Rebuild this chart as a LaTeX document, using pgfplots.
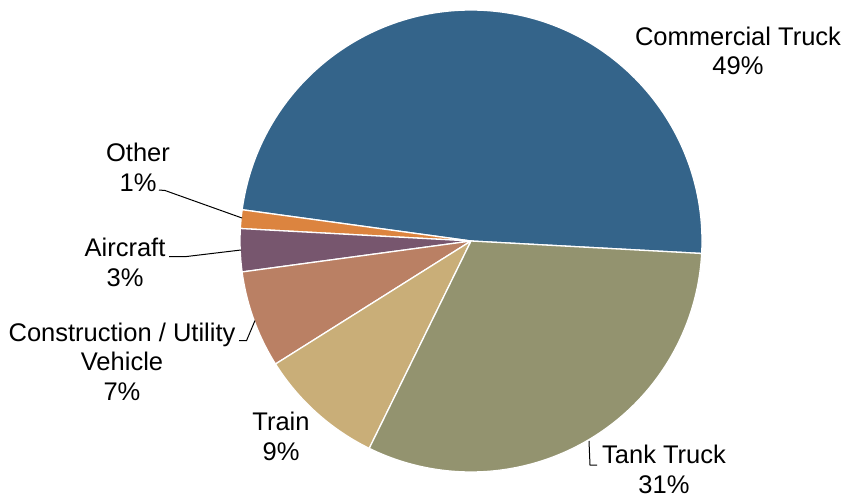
\documentclass[border=0pt]{standalone}
\usepackage{pgfplots}
\pgfplotsset{compat=1.18}
\usepackage{pgfplotstable}
\usepackage{fontspec}
\setmainfont{Liberation Sans}

\definecolor{cCom}{HTML}{34648A}
\definecolor{cOth}{HTML}{DC843F}
\definecolor{cAir}{HTML}{77566E}
\definecolor{cCon}{HTML}{BA8064}
\definecolor{cTra}{HTML}{C9AE78}
\definecolor{cTan}{HTML}{93936F}

\pgfplotstableread{
label value
Commercial 48.7
Other 1.3
Aircraft 3.0
Construction 6.8
Train 8.8
Tank 31.4
}\piedata

\pgfplotstablegetelem{0}{value}\of\piedata \let\vA\pgfplotsretval
\pgfplotstablegetelem{1}{value}\of\piedata \let\vB\pgfplotsretval
\pgfplotstablegetelem{2}{value}\of\piedata \let\vC\pgfplotsretval
\pgfplotstablegetelem{3}{value}\of\piedata \let\vD\pgfplotsretval
\pgfplotstablegetelem{4}{value}\of\piedata \let\vE\pgfplotsretval
\pgfplotstablegetelem{5}{value}\of\piedata \let\vF\pgfplotsretval

\pgfmathsetmacro\aA{-3.1}
\pgfmathsetmacro\aB{\aA+3.6*\vA}
\pgfmathsetmacro\aC{\aB+3.6*\vB}
\pgfmathsetmacro\aD{\aC+3.6*\vC}
\pgfmathsetmacro\aE{\aD+3.6*\vD}
\pgfmathsetmacro\aF{\aE+3.6*\vE}
\pgfmathsetmacro\aG{\aF+3.6*\vF}

\def\cx{471}
\def\cy{241}
\def\R{231}

\newcommand{\slice}[3]{%
  \fill[#3, draw=white, line width=1.3bp, line join=round]
    (axis cs:\cx,\cy) -- (axis cs:{\cx+\R*cos(#1)},{\cy-\R*sin(#1)})
    arc[start angle=#1, end angle=#2, radius=\R bp] -- cycle;}

\tikzset{lbl/.style={font=\fontsize{25.6}{29.5}\selectfont, align=center, inner sep=0pt}}

\begin{document}
\begin{tikzpicture}
\begin{axis}[
  scale only axis, width=845bp, height=498bp,
  xmin=0, xmax=845, ymin=0, ymax=498, y dir=reverse,
  hide axis, clip=false,
]
\path (axis cs:0,0) rectangle (axis cs:845,498);
\slice{\aA}{\aB}{cCom}
\slice{\aB}{\aC}{cOth}
\slice{\aC}{\aD}{cAir}
\slice{\aD}{\aE}{cCon}
\slice{\aE}{\aF}{cTra}
\slice{\aF}{\aG}{cTan}

\draw[black, line width=1bp] (axis cs:159,190) -- (axis cs:165,190.5) -- (axis cs:242,218);
\draw[black, line width=1bp] (axis cs:169,256.7) -- (axis cs:185,256.7) -- (axis cs:241,250);
\draw[black, line width=1bp] (axis cs:239,340.7) -- (axis cs:246.5,340.7) -- (axis cs:255,320.5);
\draw[black, line width=1bp] (axis cs:589,441) -- (axis cs:590,465) -- (axis cs:597,465);

\node[lbl] at (axis cs:738,51) {Commercial Truck\\49\%};
\node[lbl] at (axis cs:138,167.5) {Other\\1\%};
\node[lbl] at (axis cs:125,262.5) {Aircraft\\3\%};
\node[lbl] at (axis cs:122,361.5) {Construction / Utility\\Vehicle\\7\%};
\node[lbl] at (axis cs:281,436.5) {Train\\9\%};
\node[lbl] at (axis cs:664,469.5) {Tank Truck\\31\%};
\end{axis}
\end{tikzpicture}
\end{document}
